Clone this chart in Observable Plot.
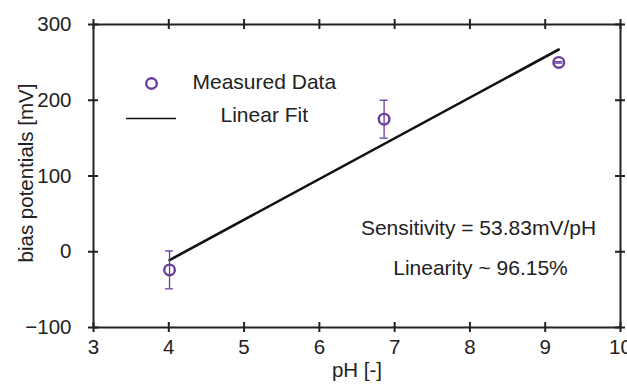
<!DOCTYPE html>
<html>
<head>
<meta charset="utf-8">
<script src="https://cdn.jsdelivr.net/npm/d3@7"></script>
<script src="https://cdn.jsdelivr.net/npm/@observablehq/plot@0.6"></script>
<style>
  html, body { margin: 0; padding: 0; background: #fff; }
  #chart svg { display: block; }
</style>
</head>
<body>
<div id="chart"></div>
<script>
// ---- data ----
const phValues = [4.01, 6.86, 9.18];
const biasValues = [-24, 175, 250];
const biasErrors = [25, 25, 1];
const fitPh = [4.01, 9.18];
const fitBias = [-11, 267];
const xTicks = [3, 4, 5, 6, 7, 8, 9, 10];
const yTicks = [-100, 0, 100, 200, 300];
const legendLabels = ["Measured Data", "Linear Fit"];
const annotations = ["Sensitivity = 53.83mV/pH", "Linearity ~ 96.15%"];
const xLabel = "pH [-]";
const yLabel = "bias potentials [mV]";

const measured = phValues.map((x, i) => ({x, y: biasValues[i], e: biasErrors[i]}));
const fit = fitPh.map((x, i) => ({x, y: fitBias[i]}));

const W = 627, H = 385;
const mL = 93, mR = 7, mT = 24, mB = 58;
const pw = W - mL - mR, ph = H - mT - mB;
const purple = "#6a3d9e";
const ink = "#222";
const font = "Liberation Sans, Arial, Helvetica, sans-serif";
const fs = 20.5;
const fsText = 21;

const legendLine = (index, scales, values, dims) => {
  const g = d3.create("svg:g");
  g.append("line")
    .attr("x1", dims.marginLeft + 33).attr("x2", dims.marginLeft + 83)
    .attr("y1", dims.marginTop + 94.5).attr("y2", dims.marginTop + 94.5)
    .attr("stroke", "#111").attr("stroke-width", 1.6);
  return g.node();
};

const chart = Plot.plot({
  width: W, height: H,
  marginLeft: mL, marginRight: mR, marginTop: mT, marginBottom: mB,
  style: {fontFamily: font, fontSize: fs + "px", color: ink, background: "#fff"},
  x: {domain: [3, 10], axis: null},
  y: {domain: [-100, 300], axis: null},
  marks: [
    // labels
    Plot.axisX(xTicks, {anchor: "bottom", tickSize: 0, tickPadding: 12, fontSize: fs, label: null, fill: ink}),
    Plot.axisY(yTicks, {anchor: "left", tickSize: 0, tickPadding: 22, fontSize: fs, label: null, fill: ink, tickFormat: d => d < 0 ? "\u2212" + Math.abs(d) : String(d)}),
    // ticks crossing the frame
    Plot.ruleX(xTicks, {x: d => d, insetTop: ph - 5, insetBottom: -5, stroke: ink, strokeWidth: 2}),
    Plot.ruleX(xTicks, {x: d => d, insetTop: -5, insetBottom: ph - 5, stroke: ink, strokeWidth: 2}),
    Plot.ruleY(yTicks, {y: d => d, insetLeft: -5, insetRight: pw - 5, stroke: ink, strokeWidth: 2}),
    Plot.ruleY(yTicks, {y: d => d, insetLeft: pw - 5, insetRight: -5, stroke: ink, strokeWidth: 2}),
    Plot.frame({stroke: ink, strokeWidth: 2}),
    // fit line
    Plot.line(fit, {x: "x", y: "y", stroke: "#111", strokeWidth: 2.6}),
    // error bars
    Plot.ruleX(measured, {x: "x", y1: d => d.y - d.e, y2: d => d.y + d.e, stroke: purple, strokeWidth: 1.3}),
    Plot.ruleY(measured, {y: d => d.y - d.e, x1: "x", x2: "x", insetLeft: -4, insetRight: -4, stroke: purple, strokeWidth: 1.3}),
    Plot.ruleY(measured, {y: d => d.y + d.e, x1: "x", x2: "x", insetLeft: -4, insetRight: -4, stroke: purple, strokeWidth: 1.3}),
    // points
    Plot.dot(measured, {x: "x", y: "y", r: 5.3, stroke: purple, strokeWidth: 2.4, fill: "none"}),
    // legend
    Plot.dot([legendLabels[0]], {frameAnchor: "top-left", dx: 58, dy: 59, r: 5.3, stroke: purple, strokeWidth: 2.4, fill: "none"}),
    Plot.text([legendLabels[0]], {text: d => d, frameAnchor: "top-left", dx: 99, dy: 58, textAnchor: "start", lineAnchor: "middle", fontSize: fsText, fill: ink}),
    legendLine,
    Plot.text([legendLabels[1]], {text: d => d, frameAnchor: "top-left", dx: 127, dy: 91, textAnchor: "start", lineAnchor: "middle", fontSize: fsText, fill: ink}),
    // annotations
    Plot.text([annotations[0]], {text: d => d, frameAnchor: "top-left", dx: 385, dy: 204, textAnchor: "middle", lineAnchor: "middle", fontSize: fsText, fill: ink}),
    Plot.text([annotations[1]], {text: d => d, frameAnchor: "top-left", dx: 387, dy: 244, textAnchor: "middle", lineAnchor: "middle", fontSize: fsText, fill: ink}),
    // axis titles
    Plot.text([xLabel], {text: d => d, frameAnchor: "bottom", dy: 43, textAnchor: "middle", lineAnchor: "middle", fontSize: fs, fill: ink}),
    Plot.text([yLabel], {text: d => d, frameAnchor: "left", dx: -67, dy: -3, rotate: -90, textAnchor: "middle", lineAnchor: "middle", fontSize: fs, fill: ink})
  ]
});
document.getElementById("chart").append(chart);
</script>
</body>
</html>
